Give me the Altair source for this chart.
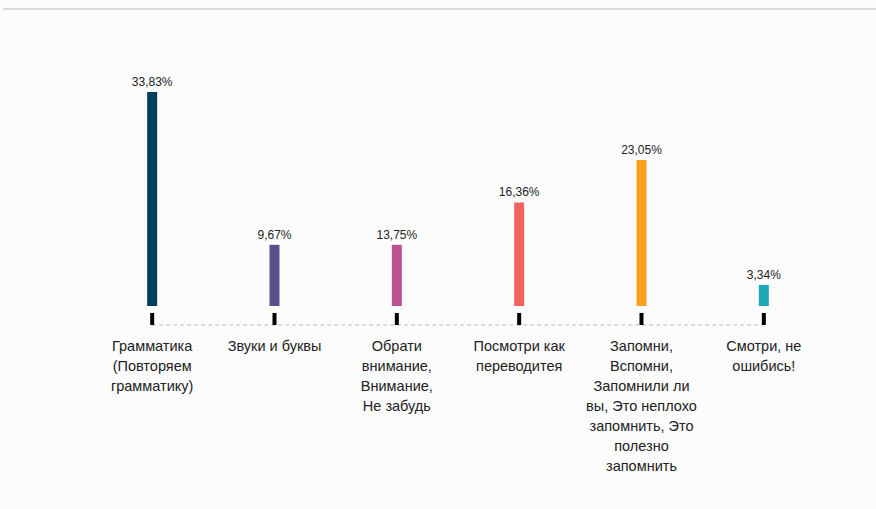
import altair as alt
import pandas as pd

categories = [
    "Грамматика\n(Повторяем\nграмматику)",
    "Звуки и буквы",
    "Обрати\nвнимание,\nВнимание,\nНе забудь",
    "Посмотри как\nпереводитея",
    "Запомни,\nВспомни,\nЗапомнили ли\nвы, Это неплохо\nзапомнить, Это\nполезно\nзапомнить",
    "Смотри, не\nошибись!",
]
# bar heights as drawn in the picture (the 13,75% bar is drawn as tall as the 9,67% one)
bar_heights = [33.83, 9.67, 9.67, 16.36, 23.05, 3.34]
value_labels = ["33,83%", "9,67%", "13,75%", "16,36%", "23,05%", "3,34%"]
colors = ["#023f5c", "#58508d", "#bc5090", "#f2625f", "#f9a11b", "#1ea7b4"]

df = pd.DataFrame({
    "idx": list(range(len(categories))),
    "cat": categories,
    "value": bar_heights,
    "vlabel": value_labels,
    "color": colors,
})

xs = alt.Scale(domain=[-0.5, 5.5])
ys = alt.Scale(domain=[-3.16, 48.35])
X = alt.X("idx:Q", scale=xs, axis=None)

base = alt.Chart(df).transform_calculate(
    zero="0", tick_top="-1.1", tick_bot="-3.0"
)

bars = base.mark_bar(size=10).encode(
    x=X,
    y=alt.Y("value:Q", scale=ys, axis=None),
    y2="zero:Q",
    color=alt.Color("color:N", scale=None),
)

vtext = base.mark_text(baseline="bottom", dy=-3, fontSize=12,
                       font="Liberation Sans", color="#222222").encode(
    x=X, y=alt.Y("value:Q", scale=ys, axis=None), text="vlabel:N"
)

ticks = base.mark_bar(size=4, color="#000000").encode(
    x=X, y=alt.Y("tick_top:Q", scale=ys, axis=None), y2="tick_bot:Q"
)

line_df = pd.DataFrame({"x0": [0], "x1": [len(categories) - 1]})
dash = alt.Chart(line_df).transform_calculate(yl="-3.0").mark_rule(
    color="#bbbbbb", strokeDash=[4, 3], strokeWidth=1
).encode(
    x=alt.X("x0:Q", scale=xs, axis=None), x2="x1:Q",
    y=alt.Y("yl:Q", scale=ys, axis=None)
)

labels = base.mark_text(baseline="top", align="center", fontSize=14.5,
                        font="Liberation Sans", color="#222222",
                        lineBreak="\n", lineHeight=20).encode(
    x=X, y=alt.value(340), text="cat:N"
)

border = alt.Chart(line_df).mark_rule(color="#d0d0d0", strokeWidth=1.5).encode(
    x=alt.value(-83), x2=alt.value(790), y=alt.value(9)
)

chart = alt.layer(border, dash, ticks, bars, vtext, labels).properties(
    width=744, height=326,
    autosize=alt.AutoSizeParams(type="none"),
    padding={"left": 86, "top": 0, "right": 46, "bottom": 183},
    background="#fcfcfc",
).configure_view(stroke=None)

chart.save("out.html", embed_options={"renderer": "svg", "actions": False})
